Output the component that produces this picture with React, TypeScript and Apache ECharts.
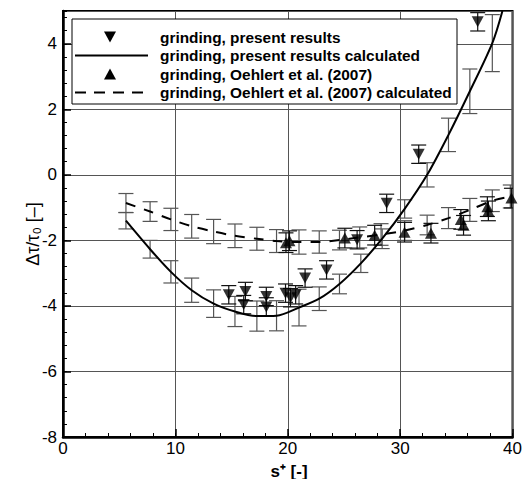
import React, { useEffect, useRef } from 'react';
import * as echarts from 'echarts';

// grinding, present results (down triangles)
const presentX = [14.75, 16.08, 16.23, 18.09, 18.09, 19.8, 20.24, 20.7, 21.54, 23.45, 26.17, 28.8, 31.65, 36.9];
const presentY = [-3.66, -3.96, -3.56, -3.71, -4.03, -3.61, -3.75, -3.66, -3.15, -2.9, -1.98, -0.87, 0.63, 4.67];
const presentErr = [0.28, 0.28, 0.28, 0.28, 0.28, 0.28, 0.28, 0.28, 0.28, 0.28, 0.28, 0.28, 0.28, 0.28];

// grinding, Oehlert et al. (2007) (up triangles)
const oehlertX = [19.84, 20.15, 25.08, 27.73, 30.39, 32.74, 35.4, 35.64, 37.76, 37.85, 39.9];
const oehlertY = [-2.07, -2.01, -1.93, -1.84, -1.75, -1.78, -1.36, -1.54, -0.97, -1.1, -0.71];
const oehlertErr = [0.3, 0.3, 0.3, 0.3, 0.3, 0.3, 0.3, 0.3, 0.3, 0.3, 0.3];

// grinding, present results calculated (solid line)
const presentCalcX = [5.6, 7.75, 9.6, 11.45, 13.4, 15.3, 17.25, 19.0, 21.0, 22.8, 24.6, 26.5, 28.4, 30.4, 32.4, 34.3, 36.2, 38.2, 39.1];
const presentCalcY = [-1.4, -2.27, -2.96, -3.52, -3.93, -4.17, -4.31, -4.3, -4.05, -3.78, -3.33, -2.7, -1.95, -1.04, 0.0, 1.22, 2.55, 4.02, 5.0];
const presentCalcErr = [0.25, 0.27, 0.34, 0.37, 0.42, 0.46, 0.46, 0.46, 0.56, 0.36, 0.3, 0.28, 0.3, 0.28, 0.37, 0.51, 0.68, 0.87, null];

// grinding, Oehlert et al. (2007) calculated (dashed line)
const oehlertCalcX = [5.6, 7.75, 9.6, 11.45, 13.4, 15.3, 17.25, 19.0, 21.0, 22.8, 24.6, 26.4, 28.3, 30.4, 32.4, 34.3, 36.2, 38.2, 39.8];
const oehlertCalcY = [-0.86, -1.12, -1.36, -1.57, -1.73, -1.86, -1.95, -2.02, -2.05, -2.05, -1.99, -1.91, -1.82, -1.7, -1.53, -1.32, -1.07, -0.79, -0.66];
const oehlertCalcErr = [0.29, 0.3, 0.34, 0.36, 0.37, 0.36, 0.35, 0.35, 0.37, 0.34, 0.3, 0.32, 0.33, 0.3, 0.3, 0.32, 0.35, 0.33, 0.35];

const legendLabels = [
  'grinding, present results',
  'grinding, present results calculated',
  'grinding, Oehlert et al. (2007)',
  'grinding, Oehlert et al. (2007) calculated',
];

const FONT = '"Liberation Sans", Arial, Helvetica, sans-serif';

function errorSeries(xs: number[], ys: number[], errs: (number | null)[], color: string, z: number) {
  const data: number[][] = [];
  xs.forEach((x, i) => {
    const e = errs[i];
    if (e !== null && e !== undefined) data.push([x, ys[i] - e, ys[i] + e]);
  });
  return {
    type: 'custom',
    xAxisIndex: 0,
    yAxisIndex: 0,
    silent: true,
    z,
    clip: true,
    encode: { x: 0, y: [1, 2] },
    data,
    renderItem: (params: any, api: any) => {
      const lo = api.coord([api.value(0), api.value(1)]);
      const hi = api.coord([api.value(0), api.value(2)]);
      const hw = 7.5;
      const st = { stroke: color, lineWidth: 1.2 };
      return {
        type: 'group',
        children: [
          { type: 'line', shape: { x1: lo[0], y1: lo[1], x2: hi[0], y2: hi[1] }, style: st },
          { type: 'line', shape: { x1: lo[0] - hw, y1: lo[1], x2: lo[0] + hw, y2: lo[1] }, style: st },
          { type: 'line', shape: { x1: hi[0] - hw, y1: hi[1], x2: hi[0] + hw, y2: hi[1] }, style: st },
        ],
      };
    },
  };
}

export default function App() {
  const ref = useRef<HTMLDivElement>(null);
  useEffect(() => {
    if (!ref.current) return;
    const chart = echarts.init(ref.current, undefined, { renderer: 'svg' });

    const rowY = [37, 55.5, 74, 92.5];
    const symX = 110;
    const textX = 160;

    const option: any = {
      animation: false,
      textStyle: { fontFamily: FONT },
      grid: {
        left: 63,
        right: 10,
        top: 11,
        bottom: 42,
        show: true,
        borderColor: '#000',
        borderWidth: 2,
        backgroundColor: 'transparent',
      },
      xAxis: [
        {
          type: 'value',
          min: 0,
          max: 40,
          interval: 10,
          position: 'bottom',
          axisLine: { show: true, onZero: false, lineStyle: { color: '#000', width: 2.5 } },
          axisTick: { show: true, inside: true, length: 8, lineStyle: { color: '#000', width: 1.5 } },
          axisLabel: { color: '#000', fontSize: 17, fontFamily: FONT, margin: 3 },
          splitLine: { show: true, lineStyle: { color: '#555', width: 1 } },
        },
        {
          type: 'value',
          min: 0,
          max: 40,
          interval: 2,
          position: 'bottom',
          axisLine: { show: false, onZero: false },
          axisTick: { show: true, inside: true, length: 4, lineStyle: { color: '#000', width: 1 } },
          axisLabel: { show: false },
          splitLine: { show: false },
        },
      ],
      yAxis: [
        {
          type: 'value',
          min: -8,
          max: 5,
          interval: 2,
          position: 'left',
          axisLine: { show: true, onZero: false, lineStyle: { color: '#000', width: 2.5 } },
          axisTick: { show: true, inside: true, length: 8, lineStyle: { color: '#000', width: 1.5 } },
          axisLabel: { color: '#000', fontSize: 17, fontFamily: FONT, margin: 6, showMaxLabel: false },
          splitLine: { show: true, lineStyle: { color: '#555', width: 1 } },
        },
        {
          type: 'value',
          min: -8,
          max: 5,
          interval: 0.4,
          position: 'left',
          axisLine: { show: false, onZero: false },
          axisTick: { show: true, inside: true, length: 4, lineStyle: { color: '#000', width: 1 } },
          axisLabel: { show: false },
          splitLine: { show: false },
        },
      ],
      series: [
        errorSeries(presentCalcX, presentCalcY, presentCalcErr, '#555', 2),
        errorSeries(oehlertCalcX, oehlertCalcY, oehlertCalcErr, '#555', 2),
        errorSeries(presentX, presentY, presentErr, '#111', 3),
        errorSeries(oehlertX, oehlertY, oehlertErr, '#111', 3),
        {
          name: legendLabels[1],
          type: 'line',
          data: presentCalcX.map((x, i) => [x, presentCalcY[i]]),
          showSymbol: false,
          smooth: 0.3,
          lineStyle: { color: '#000', width: 2 },
          z: 4,
          silent: true,
        },
        {
          name: legendLabels[3],
          type: 'line',
          data: oehlertCalcX.map((x, i) => [x, oehlertCalcY[i]]),
          showSymbol: false,
          smooth: 0.3,
          lineStyle: { color: '#000', width: 2, type: [10, 9] },
          z: 4,
          silent: true,
        },
        {
          name: legendLabels[0],
          type: 'scatter',
          data: presentX.map((x, i) => [x, presentY[i]]),
          symbol: 'triangle',
          symbolSize: [12, 11],
          symbolRotate: 180,
          itemStyle: { color: '#000' },
          z: 5,
          silent: true,
        },
        {
          name: legendLabels[2],
          type: 'scatter',
          data: oehlertX.map((x, i) => [x, oehlertY[i]]),
          symbol: 'triangle',
          symbolSize: [12, 11],
          itemStyle: { color: '#000' },
          z: 5,
          silent: true,
        },
      ],
      graphic: [
        {
          type: 'rect',
          z: 100,
          shape: { x: 72, y: 19, width: 385, height: 85 },
          style: { fill: '#fff', stroke: '#000', lineWidth: 1 },
        },
        {
          type: 'polygon',
          z: 101,
          shape: { points: [[symX - 6, rowY[0] - 5.5], [symX + 6, rowY[0] - 5.5], [symX, rowY[0] + 5.5]] },
          style: { fill: '#000' },
        },
        {
          type: 'line',
          z: 101,
          shape: { x1: 75, y1: rowY[1], x2: 148, y2: rowY[1] },
          style: { stroke: '#000', lineWidth: 2 },
        },
        {
          type: 'polygon',
          z: 101,
          shape: { points: [[symX - 6, rowY[2] + 5.5], [symX + 6, rowY[2] + 5.5], [symX, rowY[2] - 5.5]] },
          style: { fill: '#000' },
        },
        {
          type: 'line',
          z: 101,
          shape: { x1: 75, y1: rowY[3], x2: 148, y2: rowY[3] },
          style: { stroke: '#000', lineWidth: 2, lineDash: [11, 8] },
        },
        ...legendLabels.map((t, i) => ({
          type: 'text',
          z: 101,
          x: textX,
          y: rowY[i],
          style: {
            text: t,
            fill: '#000',
            font: `bold 15.4px ${FONT}`,
            textAlign: 'left',
            textVerticalAlign: 'middle',
          },
        })),
        {
          type: 'text',
          x: 289,
          y: 471,
          style: {
            text: 's⁺ [-]',
            fill: '#000',
            font: `bold 17px ${FONT}`,
            textAlign: 'center',
            textVerticalAlign: 'middle',
          },
        },
        {
          type: 'text',
          x: 33,
          y: 234,
          rotation: Math.PI / 2,
          style: {
            text: 'Δτ/τ₀ [–]',
            fill: '#000',
            font: `18px ${FONT}`,
            textAlign: 'center',
            textVerticalAlign: 'middle',
          },
        },
      ],
    };

    chart.setOption(option);
    return () => chart.dispose();
  }, []);

  return (
    <div
      ref={ref}
      style={{ position: 'absolute', left: 0, top: 0, width: 525, height: 479, background: '#fff' }}
    />
  );
}
